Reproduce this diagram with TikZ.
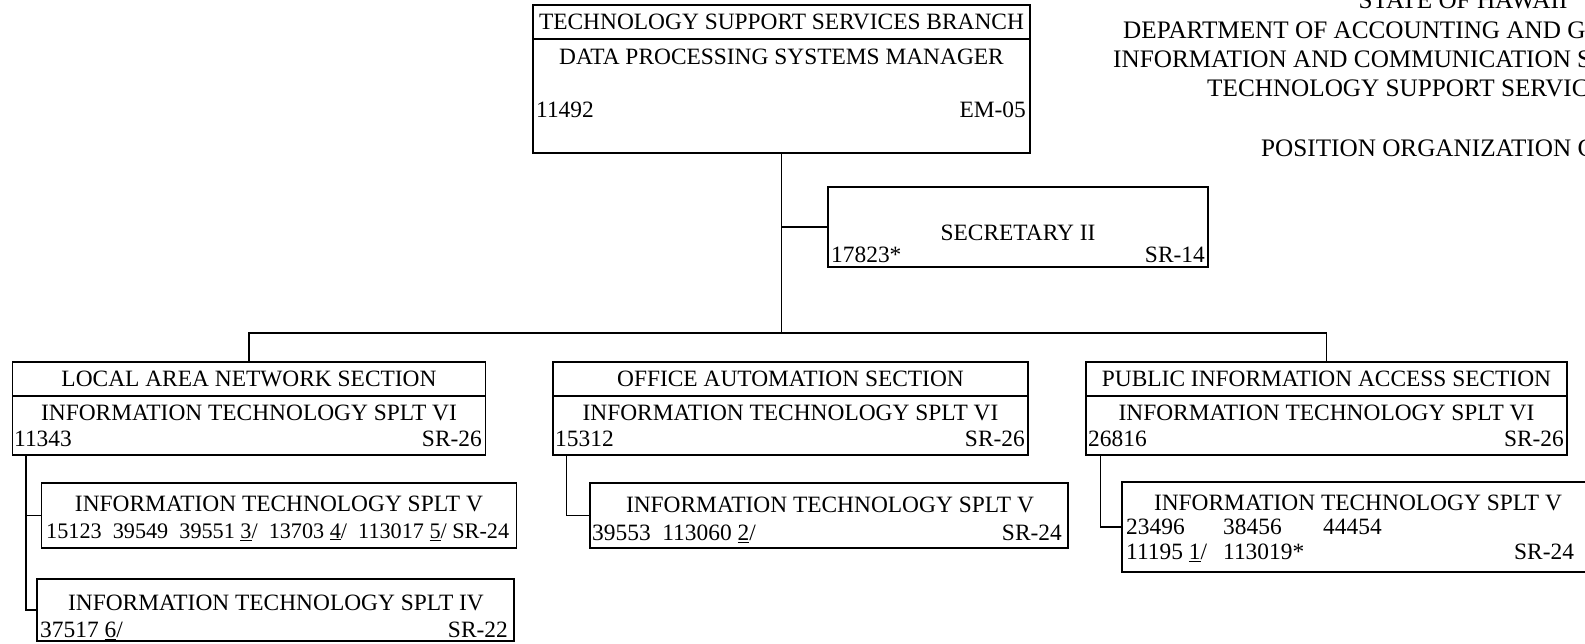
\documentclass[tikz,border=0pt]{standalone}
\usepackage{fontspec}
\setmainfont{Liberation Serif}

\begin{document}
\begin{tikzpicture}[x=1pt, y=-1pt,
		box/.style={draw, rectangle, line width=1.5pt, inner sep=0pt, font=\fontsize{23.4}{28}\selectfont},
		txt/.style={inner sep=0pt, font=\fontsize{23.4}{28}\selectfont},
		ttl/.style={inner sep=0pt, font=\fontsize{25.2}{30}\selectfont},
		link/.style={line width=1.5pt}]
			
			\useasboundingbox (0,0) rectangle (1585,644);
			\clip (0,0) rectangle (1585,644);
			
			% title in the upper right corner
			\node[ttl, anchor=base] 
			(Title-1) at (1463,9) {STATE OF HAWAII};
			\node[ttl, anchor=base west] 
			(Title-2) at (1123,39) {DEPARTMENT OF ACCOUNTING AND G};
			\node[ttl, anchor=base west] 
			(Title-3) at (1113,68) {INFORMATION AND COMMUNICATION S};
			\node[ttl, anchor=base west] 
			(Title-4) at (1207,97) {TECHNOLOGY SUPPORT SERVIC};
			\node[ttl, anchor=base west] 
			(Title-5) at (1261,157) {POSITION ORGANIZATION C};
			
			% branch
			\node[box, minimum width = 497pt, minimum height = 34pt] 
			(Branch-Head) at (781.5,22) {TECHNOLOGY SUPPORT SERVICES BRANCH};
			\node[box, minimum width = 497pt, minimum height = 114pt] 
			(Branch-Body) at (781.5,96) {};
			\node[txt] 
			(Branch-Pos) at (781.5,57) {DATA PROCESSING SYSTEMS MANAGER};
			\node[txt, anchor=west] 
			(Branch-Num) at (536,110) {11492};
			\node[txt, anchor=east] 
			(Branch-Grade) at (1026,110) {EM-05};
			
			% secretary
			\node[box, minimum width = 380pt, minimum height = 80pt] 
			(Sec) at (1018,227) {};
			\node[txt] 
			(Sec-Pos) at (1018,233) {SECRETARY II};
			\node[txt, anchor=west] 
			(Sec-Num) at (831,255) {17823*};
			\node[txt, anchor=east] 
			(Sec-Grade) at (1205,255) {SR-14};
			
			\coordinate (Hub) at (Branch-Body.south |- 0,333);
			\draw[link] (Branch-Body.south) -- (Hub);
			\draw[link] (Sec.west) -- (Sec.west -| Hub);
			
			% local area network section
			\node[box, minimum width = 473pt, minimum height = 34pt] 
			(LAN-Head) at (249,379) {LOCAL AREA NETWORK SECTION};
			\node[box, minimum width = 473pt, minimum height = 59pt] 
			(LAN-Body) at (249,425.5) {};
			\node[txt] 
			(LAN-Pos) at (249,413) {INFORMATION TECHNOLOGY SPLT VI};
			\node[txt, anchor=west] 
			(LAN-Num) at (14,439) {11343};
			\node[txt, anchor=east] 
			(LAN-Grade) at (482,439) {SR-26};
			
			\node[box, minimum width = 475pt, minimum height = 65pt] 
			(LAN-V) at (279,515.5) {};
			\node[txt] 
			(LAN-V-Pos) at (279,504) {INFORMATION TECHNOLOGY SPLT V};
			\node[txt, anchor=west, font=\fontsize{22.2}{27}\selectfont] 
			(LAN-V-Num) at (46,532) {15123~~39549~~39551 \underline{3}/~~13703 \underline{4}/~~113017 \underline{5}/ SR-24};
			
			\node[box, minimum width = 477pt, minimum height = 62pt] 
			(LAN-IV) at (275.5,610) {};
			\node[txt] 
			(LAN-IV-Pos) at (276,603) {INFORMATION TECHNOLOGY SPLT IV};
			\node[txt, anchor=west] 
			(LAN-IV-Num) at (40,631) {37517 \underline{6}/};
			\node[txt, anchor=east] 
			(LAN-IV-Grade) at (508,630) {SR-22};
			
			\coordinate (LAN-Trunk) at ([xshift=14pt]LAN-Body.south west);
			\draw[link] (LAN-Trunk) |- (LAN-V.west);
			\draw[link] (LAN-Trunk) |- (LAN-IV.west);
			
			% office automation section
			\node[box, minimum width = 475pt, minimum height = 34pt] 
			(OA-Head) at (790.5,379) {OFFICE AUTOMATION SECTION};
			\node[box, minimum width = 475pt, minimum height = 59pt] 
			(OA-Body) at (790.5,425.5) {};
			\node[txt] 
			(OA-Pos) at (790.5,413) {INFORMATION TECHNOLOGY SPLT VI};
			\node[txt, anchor=west] 
			(OA-Num) at (555,439) {15312};
			\node[txt, anchor=east] 
			(OA-Grade) at (1025,439) {SR-26};
			
			\node[box, minimum width = 478pt, minimum height = 65pt] 
			(OA-V) at (829,515.5) {};
			\node[txt] 
			(OA-V-Pos) at (830,505) {INFORMATION TECHNOLOGY SPLT V};
			\node[txt, anchor=west] 
			(OA-V-Num) at (592,534) {39553~~113060 \underline{2}/};
			\node[txt, anchor=east] 
			(OA-V-Grade) at (1062,533) {SR-24};
			
			\draw[link] ([xshift=14pt]OA-Body.south west) |- (OA-V.west);
			
			% public information access section
			\node[box, minimum width = 481pt, minimum height = 34pt] 
			(PIA-Head) at (1326.5,379) {PUBLIC INFORMATION ACCESS SECTION};
			\node[box, minimum width = 481pt, minimum height = 59pt] 
			(PIA-Body) at (1326.5,425.5) {};
			\node[txt] 
			(PIA-Pos) at (1326.5,413) {INFORMATION TECHNOLOGY SPLT VI};
			\node[txt, anchor=west] 
			(PIA-Num) at (1088,439) {26816};
			\node[txt, anchor=east] 
			(PIA-Grade) at (1564,439) {SR-26};
			
			\node[box, minimum width = 488pt, minimum height = 90pt] 
			(PIA-V) at (1366,527) {};
			\node[txt] 
			(PIA-V-Pos) at (1358,503) {INFORMATION TECHNOLOGY SPLT V};
			\node[txt, anchor=west] 
			(PIA-V-Num1) at (1126,527) {23496};
			\node[txt, anchor=west] 
			(PIA-V-Num2) at (1223,527) {38456};
			\node[txt, anchor=west] 
			(PIA-V-Num3) at (1323,527) {44454};
			\node[txt, anchor=west] 
			(PIA-V-Num4) at (1126,553) {11195 \underline{1}/};
			\node[txt, anchor=west] 
			(PIA-V-Num5) at (1223,552) {113019*};
			\node[txt, anchor=west] 
			(PIA-V-Grade) at (1514,552) {SR-24};
			
			\draw[link] ([xshift=15pt]PIA-Body.south west) |- (PIA-V.west);
			
			% sections hang off the branch
			\draw[link] (LAN-Head.north) |- (Hub) -| (PIA-Head.north);
			
		\end{tikzpicture}
\end{document}
